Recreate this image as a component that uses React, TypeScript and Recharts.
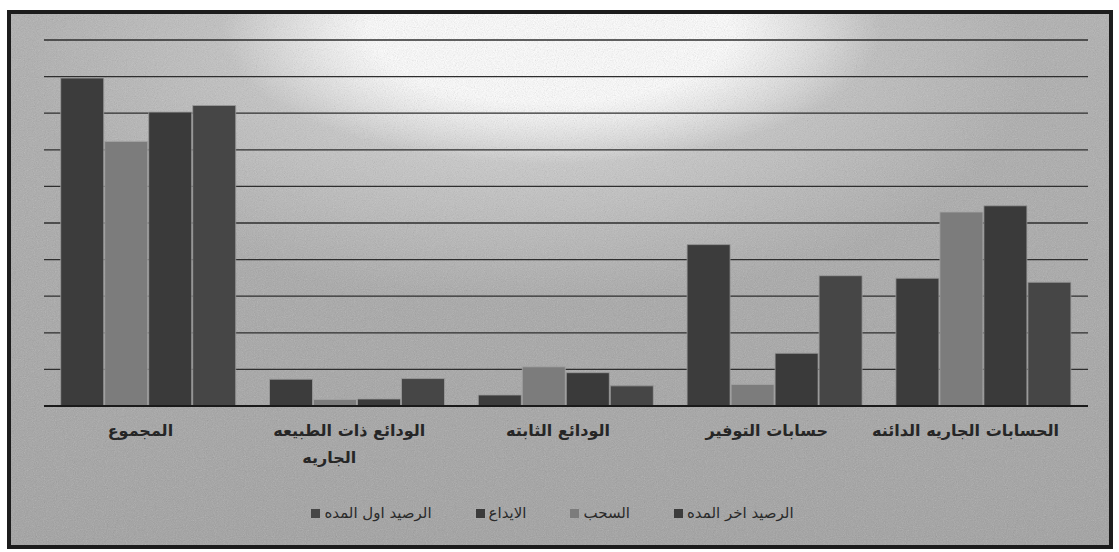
import React from 'react';
import { BarChart, Bar, XAxis, YAxis, CartesianGrid, Legend } from 'recharts';

const categories = [
  'المجموع',
  'الودائع ذات الطبيعه الجاريه',
  'الودائع الثابته',
  'حسابات التوفير',
  'الحسابات الجاريه الدائنه',
];
// visual order of bars inside each group, left to right
const closingBalance = [89.6, 7.3, 3.0, 44.1, 34.9]; // الرصيد اخر المده
const withdrawals = [72.3, 1.8, 10.7, 5.9, 53.0]; // السحب
const deposits = [80.3, 1.9, 9.1, 14.4, 54.7]; // الايداع
const openingBalance = [82.1, 7.5, 5.5, 35.6, 33.8]; // الرصيد اول المده
const yTicks = [0, 10, 20, 30, 40, 50, 60, 70, 80, 90, 100];

const seriesNames = {
  closing: 'الرصيد اخر المده',
  withdraw: 'السحب',
  deposit: 'الايداع',
  opening: 'الرصيد اول المده',
};
// legend items, left to right
const legendOrder = ['opening', 'deposit', 'withdraw', 'closing'];

const data = categories.map((c, i) => ({
  name: c,
  closing: closingBalance[i],
  withdraw: withdrawals[i],
  deposit: deposits[i],
  opening: openingBalance[i],
}));

const FONT = '"DejaVu Sans", "Noto Sans", sans-serif';

function wrapLabel(text: string, maxChars: number): string[] {
  const words = text.split(' ');
  const lines: string[] = [];
  let cur = '';
  for (const w of words) {
    const next = cur ? cur + ' ' + w : w;
    if (next.length > maxChars && cur) {
      lines.push(cur);
      cur = w;
    } else {
      cur = next;
    }
  }
  if (cur) lines.push(cur);
  return lines;
}

const CategoryTick = (props: any) => {
  const { x, y, payload } = props;
  const lines = wrapLabel(String(payload.value), 24);
  const shift = lines[0].length > 20 ? -18 : -8;
  return (
    <text
      x={x}
      y={y}
      textAnchor="middle"
      fill="#262626"
      fontFamily={FONT}
      fontSize={16}
      fontWeight="bold"
    >
      {lines.map((l, i) => (
        <tspan key={i} x={i === 0 ? x + shift : x - 28} dy={i === 0 ? 22 : 27}>
          {l}
        </tspan>
      ))}
    </text>
  );
};

const LegendContent = (props: any) => {
  const items = [...(props.payload || [])].sort(
    (a: any, b: any) => legendOrder.indexOf(a.dataKey) - legendOrder.indexOf(b.dataKey)
  );
  return (
    <div
      style={{
        display: 'flex',
        justifyContent: 'center',
        alignItems: 'center',
        height: 20,
        fontFamily: FONT,
        fontSize: 15,
        color: '#2a2a2a',
        gap: 44,
        paddingRight: 14,
      }}
    >
      {items.map((it: any) => (
        <div key={it.value} style={{ display: 'flex', alignItems: 'center' }}>
          <span
            style={{
              display: 'inline-block',
              width: 9,
              height: 9,
              background: it.color,
              marginRight: 4,
            }}
          />
          <span>{it.value}</span>
        </div>
      ))}
    </div>
  );
};

const noise =
  "url(\"data:image/svg+xml;utf8,<svg xmlns='http://www.w3.org/2000/svg' width='300' height='300'><filter id='n'><feTurbulence type='fractalNoise' baseFrequency='0.9' numOctaves='2' stitchTiles='stitch'/><feColorMatrix type='saturate' values='0'/></filter><rect width='100%' height='100%' filter='url(%23n)' opacity='0.35'/></svg>\")";

export default function App() {
  return (
    <div style={{ position: 'absolute', left: 0, top: 0, width: 1119, height: 552, background: '#fff' }}>
      <div
        style={{
          position: 'absolute',
          left: 7,
          top: 10,
          width: 1098,
          height: 531,
          border: '4px solid #1c1c1c',
          backgroundColor: '#a8a8a8',
          backgroundImage:
            noise +
            ', radial-gradient(ellipse 330px 135px at 540px 15px, rgba(255,255,255,1) 0%, rgba(255,255,255,1) 55%, rgba(255,255,255,0) 100%)' +
            ', radial-gradient(ellipse 500px 240px at 520px 50px, rgba(235,235,235,0.8) 0%, rgba(210,210,210,0) 100%)' +
            ', linear-gradient(180deg, #afafaf 0%, #a6a6a6 60%, #a0a0a0 100%)',
        }}
      />
      <div style={{ position: 'absolute', left: 0, top: 0 }}>
        <BarChart
          width={1119}
          height={552}
          data={data}
          margin={{ top: 40, right: 31, left: 44, bottom: 66 }}
          barCategoryGap="8%"
          barGap={1}
        >
          <CartesianGrid vertical={false} stroke="#2e2e2e" strokeWidth={1.3} />
          <YAxis hide domain={[0, 100]} ticks={yTicks} />
          <XAxis
            dataKey="name"
            axisLine={{ stroke: '#1a1a1a', strokeWidth: 2 }}
            tickLine={false}
            tick={<CategoryTick />}
            height={60}
            interval={0}
          />
          <Legend
            verticalAlign="bottom"
            content={<LegendContent />}
            wrapperStyle={{ top: 503, left: 0, width: 1119, height: 20 }}
          />
          <Bar dataKey="closing" name={seriesNames.closing} fill="#3c3c3c" stroke="#9a9a9a" strokeWidth={0.8} isAnimationActive={false} />
          <Bar dataKey="withdraw" name={seriesNames.withdraw} fill="#7c7c7c" stroke="#a5a5a5" strokeWidth={0.8} isAnimationActive={false} />
          <Bar dataKey="deposit" name={seriesNames.deposit} fill="#3a3a3a" stroke="#9a9a9a" strokeWidth={0.8} isAnimationActive={false} />
          <Bar dataKey="opening" name={seriesNames.opening} fill="#464646" stroke="#9a9a9a" strokeWidth={0.8} isAnimationActive={false} />
        </BarChart>
      </div>
    </div>
  );
}
